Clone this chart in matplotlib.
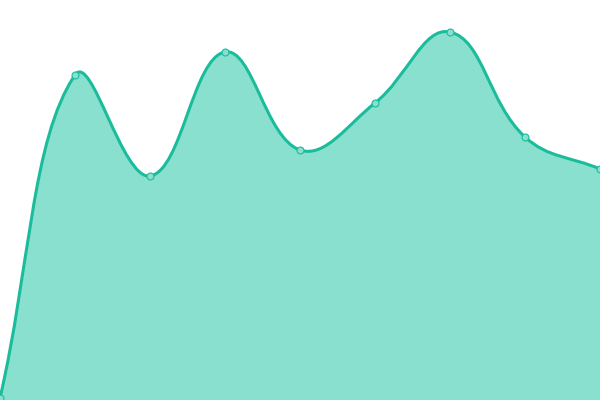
import numpy as np
import matplotlib
matplotlib.use("Agg")
import matplotlib.pyplot as plt
from matplotlib.path import Path
from matplotlib.patches import PathPatch

# values (chart units, 0 at bottom, 400 at top)
x_vals = [0, 75, 150, 225, 300, 375, 450, 525, 600]
y_vals = [2, 325, 224, 348, 250, 297, 368, 263, 231]

LINE = "#1abc9c"
FILL = "#8ae0cf"
TENSION = 0.4


def spline_controls(xs, ys, t):
    # same control point rule as a chart.js tension curve
    pts = np.column_stack([xs, ys]).astype(float)
    n = len(pts)
    before, after = [], []
    for i in range(n):
        p0 = pts[i - 1] if i > 0 else pts[i]
        p1 = pts[i]
        p2 = pts[i + 1] if i < n - 1 else pts[i]
        d01 = np.hypot(*(p1 - p0))
        d12 = np.hypot(*(p2 - p1))
        tot = d01 + d12
        fa = t * d01 / tot if tot else 0
        fb = t * d12 / tot if tot else 0
        before.append(p1 - fa * (p2 - p0))
        after.append(p1 + fb * (p2 - p0))
    return pts, before, after


def curve_path(xs, ys, t, close=False, base=0):
    pts, before, after = spline_controls(xs, ys, t)
    verts = [tuple(pts[0])]
    codes = [Path.MOVETO]
    for i in range(1, len(pts)):
        verts += [tuple(after[i - 1]), tuple(before[i]), tuple(pts[i])]
        codes += [Path.CURVE4] * 3
    if close:
        verts += [(pts[-1][0], base), (pts[0][0], base), tuple(pts[0])]
        codes += [Path.LINETO, Path.LINETO, Path.CLOSEPOLY]
    return Path(verts, codes)


fig = plt.figure(figsize=(6, 4), dpi=100)
ax = fig.add_axes([0, 0, 1, 1])
ax.set_xlim(0, 600)
ax.set_ylim(0, 400)
ax.axis("off")

ax.add_patch(PathPatch(curve_path(x_vals, y_vals, TENSION, close=True),
                       facecolor=FILL, edgecolor="none"))
ax.add_patch(PathPatch(curve_path(x_vals, y_vals, TENSION),
                       facecolor="none", edgecolor=LINE, lw=2.2,
                       capstyle="round", joinstyle="round"))
ax.plot(x_vals, y_vals, "o", ms=5, mfc=FILL, mec=LINE, mew=0.8)

fig.savefig("out.png", dpi=100)
